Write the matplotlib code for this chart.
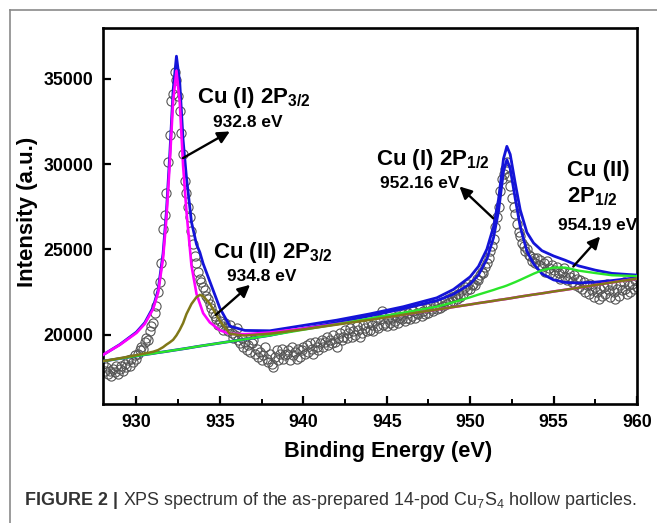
import numpy as np
import matplotlib
matplotlib.use("Agg")
import matplotlib.pyplot as plt
from matplotlib.lines import Line2D
from matplotlib.ticker import MultipleLocator

plt.rcParams['font.family'] = ['Liberation Sans', 'DejaVu Sans']

# ---------------- data ----------------
energy = np.round(np.arange(928.0, 960.05, 0.1), 1)
intensity = [
    18300, 17900, 18100, 17700, 17900, 17600, 18000, 17800, 18200, 17700,
    18000, 18200, 17900, 18300, 18100, 18500, 18200, 18600, 18400, 18800,
    18600, 18900, 19100, 19300, 19200, 19600, 19800, 19700, 20200, 20500,
    20700, 21300, 21700, 22500, 23100, 24200, 26200, 27000, 28300, 30100,
    31700, 33700, 34100, 35400, 34900, 34000, 33100, 31800, 30600, 29000,
    28300, 27500, 26900, 26100, 25300, 24600, 24200, 23700, 23300, 23100,
    22800, 22600, 22300, 22100, 21800, 21600, 21300, 21100, 20900, 20600,
    20800, 20500, 20300, 20700, 20400, 20200, 20600, 20100, 19800, 20000,
    20400, 19700, 19500, 19800, 19300, 19600, 19100, 19400, 19000, 19500,
    19700, 18900, 19200, 18700, 19000, 18500, 18800, 19300, 18600, 18400,
    18900, 18300, 18100, 18700, 19100, 18500, 18900, 19200, 18600, 18800,
    18900, 19100, 18500, 19300, 18800, 19000, 18600, 19200, 18700, 19100,
    19300, 18900, 19400, 19000, 19500, 19200, 18900, 19600, 19300, 19100,
    19500, 19700, 19300, 19600, 19900, 19400, 19700, 19500, 20000, 19600,
    19300, 19800, 20100, 19700, 19900, 20300, 19800, 20100, 20400, 19900,
    20200, 20000, 20500, 20300, 19900, 20100, 20600, 20400, 20200, 20700,
    20300, 20600, 20200, 20800, 20500, 20400, 20900, 21400, 20600, 20700,
    20500, 20900, 20700, 21000, 20600, 20800, 21100, 20700, 21000, 20900,
    21200, 20800, 21000, 21300, 20900, 21100, 21400, 21000, 21300, 21200,
    21500, 21100, 21400, 21200, 21600, 21300, 21800, 21500, 21400, 21700,
    21500, 21800, 21600, 21900, 21700, 22000, 21800, 22100, 21900, 22200,
    22000, 22300, 22100, 22400, 22200, 22600, 22400, 22800, 22600, 23000,
    22700, 22900, 23000, 22900, 23300, 23200, 23500, 23700, 23600, 24000,
    24200, 24500, 24900, 25200, 25600, 26300, 26900, 27500, 28400, 29100,
    29400, 29700, 30100, 29300, 28700, 28000, 27500, 27100, 26500, 26000,
    25800, 25400, 25200, 24900, 25000, 24700, 24600, 24300, 24500, 24200,
    24500, 24100, 24400, 24000, 24200, 23700, 24300, 23900, 23600, 24100,
    23800, 23500, 24000, 23600, 23300, 23700, 23900, 23400, 23200, 23600,
    23400, 23100, 23500, 22900, 23300, 22800, 23200, 22700, 23100, 22500,
    22900, 22400, 23000, 22600, 22200, 22800, 22500, 22100, 22700, 22300,
    22800, 22400, 23000, 22600, 22200, 22900, 22500, 22100, 22700, 22300,
    22900, 22600, 23100, 22700, 22400, 22900, 22500, 23000, 22700, 23200,
    22800,
]

fit_energy = [928, 929, 930, 930.5, 931, 931.3, 931.6, 931.8, 932.0, 932.2,
              932.4, 932.6, 932.8, 933.0, 933.3, 933.6, 933.8, 934.0, 934.4, 935.0,
              935.6, 936.5, 938, 940, 942, 944, 946, 948, 949, 950,
              950.5, 951, 951.4, 951.7, 952.0, 952.2, 952.4, 952.7, 953.0, 953.4,
              953.8, 954.3, 955, 955.7, 956.5, 957.5, 958.5, 960]

fit_envelope = [18830, 19430, 20160, 20710, 21610, 22610, 24780, 27230, 30560, 34310,
                36320, 34760, 31390, 29220, 26610, 25310, 24840, 24170, 23130, 21570,
                20510, 20260, 20240, 20550, 20860, 21230, 21650, 22170, 22660, 23400,
                24010, 25010, 26330, 27930, 30320, 31040, 30570, 28890, 27320, 26000,
                25380, 24930, 24620, 24370, 24040, 23790, 23600, 23500]

fit_cu1_2p12 = [18460, 18610, 18760, 18840, 18910, 18960, 19000, 19030, 19060, 19090,
                19120, 19150, 19180, 19210, 19260, 19310, 19340, 19370, 19430, 19520,
                19610, 19740, 19970, 20370, 20720, 21110, 21530, 22000, 22380, 22980,
                23510, 24430, 25690, 27240, 29580, 30260, 29740, 27990, 26340, 24900,
                24160, 23580, 23220, 23070, 23040, 23090, 23180, 23350]

fit_cu1_2p32 = [18830, 19410, 20110, 20640, 21510, 22460, 24500, 26830, 30060, 33690,
                35470, 33600, 29890, 27220, 24060, 22410, 21840, 21270, 20730, 20270,
                20060, 20040, 20140, 20370, 20630, 20920, 21180, 21480, 21630, 21780,
                21860, 21930, 21990, 22040, 22080, 22110, 22140, 22190, 22240, 22300,
                22360, 22430, 22540, 22640, 22760, 22920, 23070, 23290]

fit_cu2_2p32 = [18460, 18630, 18810, 18910, 19010, 19110, 19280, 19430, 19560, 19710,
                19970, 20300, 20690, 21220, 21810, 22210, 22340, 22270, 21830, 20820,
                20060, 19960, 20070, 20320, 20600, 20880, 21180, 21480, 21630, 21780,
                21860, 21930, 21990, 22040, 22080, 22110, 22140, 22190, 22240, 22300,
                22360, 22430, 22540, 22640, 22760, 22920, 23070, 23290]

fit_cu2_2p12 = [18460, 18610, 18760, 18840, 18910, 18960, 19000, 19030, 19060, 19090,
                19120, 19150, 19180, 19210, 19260, 19310, 19340, 19370, 19430, 19520,
                19610, 19740, 19970, 20300, 20620, 20960, 21300, 21650, 21910, 22200,
                22360, 22510, 22630, 22730, 22820, 22890, 22970, 23090, 23220, 23400,
                23580, 23780, 23940, 23940, 23760, 23620, 23490, 23440]

x_ticks = [930, 935, 940, 945, 950, 955, 960]
y_ticks = [20000, 25000, 30000, 35000]

# ---------------- figure ----------------
fig = plt.figure(figsize=(6.57, 5.23), dpi=100)
ax = fig.add_axes([0.1568, 0.2275, 0.9696 - 0.1568, 0.9474 - 0.2275])

ax.plot(energy, intensity, linestyle='none', marker='o', markersize=6.6,
        markerfacecolor='none', markeredgecolor='#555555', markeredgewidth=0.8, zorder=1)

ax.plot(fit_energy, fit_envelope, color='#1414d8', lw=2.0, zorder=3)
ax.plot(fit_energy, fit_cu1_2p12, color='#1414d8', lw=2.0, zorder=3)
ax.plot(fit_energy, fit_cu1_2p32, color='#ff00ff', lw=1.9, zorder=4)
ax.plot(fit_energy, fit_cu2_2p12, color='#2ae62a', lw=1.7, zorder=5)
ax.plot(fit_energy, fit_cu2_2p32, color='#807818', lw=1.8, zorder=6)

ax.set_xlim(928, 960)
ax.set_ylim(15950, 38000)
ax.set_xticks(x_ticks)
ax.set_xticklabels([str(t) for t in x_ticks])
ax.xaxis.set_minor_locator(MultipleLocator(2.5))
ax.set_yticks(y_ticks)
ax.set_yticklabels([str(t) for t in y_ticks])

for s in ax.spines.values():
    s.set_linewidth(1.9)
ax.tick_params(axis='both', which='major', direction='in', length=6, width=1.6,
               labelsize=12.8, pad=7, top=False, right=False)
ax.tick_params(axis='x', which='minor', direction='in', length=3.5, width=1.4,
               top=False)
for lab in ax.get_xticklabels() + ax.get_yticklabels():
    lab.set_fontweight('bold')

ax.set_xlabel('Binding Energy (eV)', fontsize=15.7, fontweight='bold')
ax.set_ylabel('Intensity (a.u.)', fontsize=16, fontweight='bold')
ax.xaxis.set_label_coords(0.533, -0.097)
ax.yaxis.set_label_coords(-0.122, 0.511)

big = 16
small = 12.5
ax.text(933.61, 33594, r'Cu (I) 2P$_\mathregular{3/2}$', fontsize=big, fontweight='bold',
        ha='left', va='baseline')
ax.text(934.58, 32146, '932.8 eV', fontsize=small, fontweight='bold', ha='left', va='baseline')
ax.text(934.6, 24494, r'Cu (II) 2P$_\mathregular{3/2}$', fontsize=big, fontweight='bold',
        ha='left', va='baseline')
ax.text(935.4, 23164, '934.8 eV', fontsize=small, fontweight='bold', ha='left', va='baseline')
ax.text(944.34, 29961, r'Cu (I) 2P$_\mathregular{1/2}$', fontsize=big, fontweight='bold',
        ha='left', va='baseline')
ax.text(944.6, 28596, '952.16 eV', fontsize=small, fontweight='bold', ha='left', va='baseline')
ax.text(955.78, 29275, 'Cu (II)', fontsize=big, fontweight='bold', ha='left', va='baseline')
ax.text(955.78, 27752, r'2P$_\mathregular{1/2}$', fontsize=big, fontweight='bold',
        ha='left', va='baseline')
ax.text(955.28, 26152, '954.19 eV', fontsize=small, fontweight='bold', ha='left', va='baseline')

arrow_kw = dict(arrowstyle='-|>', color='black', lw=1.7, mutation_scale=18,
                shrinkA=0, shrinkB=0)
ax.annotate('', xy=(935.6, 31913), xytext=(932.79, 30353), arrowprops=arrow_kw, zorder=7)
ax.annotate('', xy=(936.81, 22930), xytext=(934.76, 21172), arrowprops=arrow_kw, zorder=7)
ax.annotate('', xy=(949.36, 28690), xytext=(951.37, 26838), arrowprops=arrow_kw, zorder=7)
ax.annotate('', xy=(957.79, 25760), xytext=(956.18, 24002), arrowprops=arrow_kw, zorder=7)

# frame lines (top and left) of the figure panel
fig.add_artist(Line2D([10 / 657, 1.0], [1 - 10 / 523, 1 - 10 / 523], color='#8a8a8a', lw=1.2))
fig.add_artist(Line2D([10 / 657, 10 / 657], [0.0, 1 - 10 / 523], color='#8a8a8a', lw=1.2))

# caption
fig.canvas.draw()
renderer = fig.canvas.get_renderer()
t1 = fig.text(25 / 657, 1 - 505 / 523, 'FIGURE 2 | ', fontsize=12.9, fontweight='bold',
              color='#333333', ha='left', va='baseline')
bb = t1.get_window_extent(renderer=renderer)
x2 = bb.x1 / fig.bbox.width
fig.text(x2, 1 - 505 / 523, r'XPS spectrum of the as-prepared 14-pod Cu$_\mathregular{7}$S$_\mathregular{4}$ hollow particles.',
         fontsize=12.9, color='#333333', ha='left', va='baseline')

fig.savefig('out.png', dpi=100)
